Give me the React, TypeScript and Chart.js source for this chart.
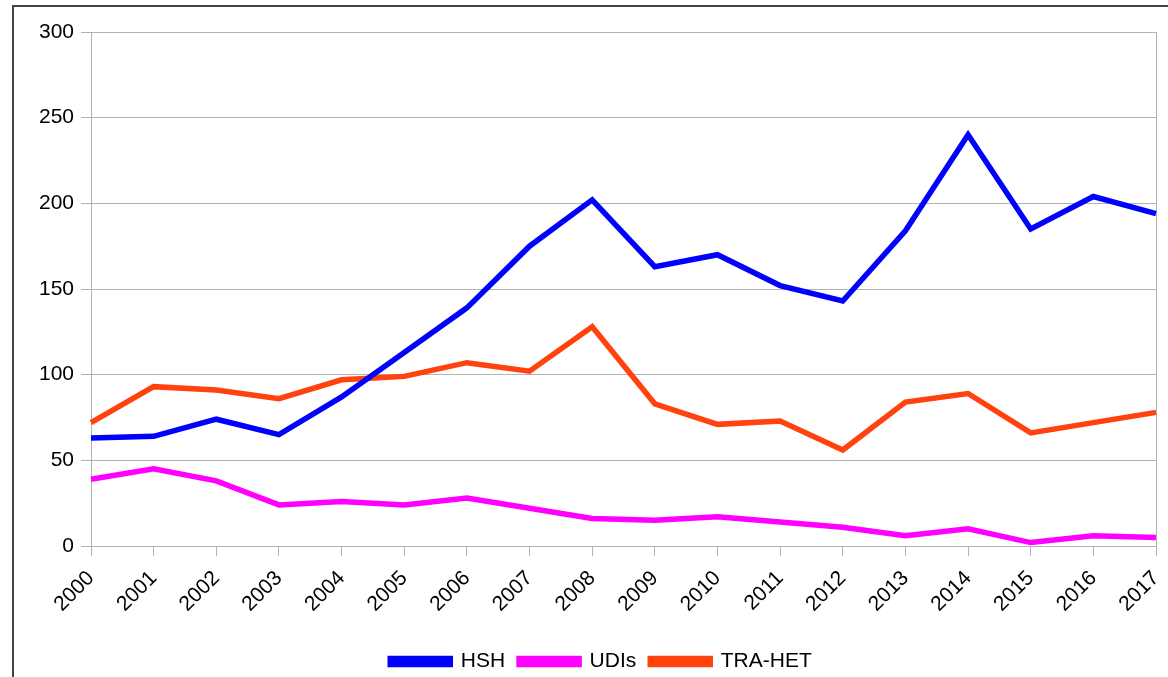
import React, { useEffect, useRef } from "react";
import { Chart, registerables } from "chart.js";

Chart.register(...registerables);

const years = ["2000","2001","2002","2003","2004","2005","2006","2007","2008","2009","2010","2011","2012","2013","2014","2015","2016","2017"];
const hsh = [63, 64, 74, 65, 87, 113, 139, 175, 202, 163, 170, 152, 143, 184, 240, 185, 204, 194];
const udis = [39, 45, 38, 24, 26, 24, 28, 22, 16, 15, 17, 14, 11, 6, 10, 2, 6, 5];
const traHet = [72, 93, 91, 86, 97, 99, 107, 102, 128, 83, 71, 73, 56, 84, 89, 66, 72, 78];

const FONT = "'Liberation Sans', Arial, sans-serif";
const GRID = "#b3b3b3";
const FS = 21;

const shiftLegend = {
  id: "shiftLegend",
  afterLayout(chart: any) {
    if (chart.legend) {
      chart.legend.left += 8;
      chart.legend.right += 8;
    }
  },
};

export default function App() {
  const ref = useRef<HTMLCanvasElement | null>(null);
  useEffect(() => {
    document.body.style.margin = "0";
    document.body.style.overflow = "hidden";
    document.documentElement.style.overflow = "hidden";
    if (!ref.current) return;
    const last = years.length - 1;
    const chart = new Chart(ref.current, {
      type: "line",
      data: {
        labels: years,
        datasets: [
          { label: "HSH", data: hsh, borderColor: "#0000ff", backgroundColor: "#0000ff" },
          { label: "UDIs", data: udis, borderColor: "#ff00ff", backgroundColor: "#ff00ff" },
          { label: "TRA-HET", data: traHet, borderColor: "#ff420e", backgroundColor: "#ff420e" },
        ].map((d) => ({ ...d, borderWidth: 5.5, pointRadius: 0, tension: 0, fill: false })),
      },
      plugins: [shiftLegend],
      options: {
        animation: false,
        responsive: false,
        maintainAspectRatio: false,
        layout: { padding: { left: 30, right: 12, top: 32, bottom: 0 } },
        plugins: {
          tooltip: { enabled: false },
          legend: {
            position: "bottom",
            labels: {
              boxWidth: 60,
              boxHeight: 6,
              padding: 14,
              color: "#000",
              font: { family: FONT, size: FS },
            },
          },
        },
        scales: {
          x: {
            afterFit: (s: any) => { s.height = 91; s.paddingRight = 0; s.paddingLeft = 0; },
            grid: {
              color: (c: any) => (c.index === last ? GRID : "rgba(0,0,0,0)"),
              tickColor: GRID,
              tickLength: 10,
              lineWidth: 1,
            },
            border: { display: false },
            ticks: {
              color: "#000",
              font: { family: FONT, size: FS },
              maxRotation: 45,
              minRotation: 45,
              autoSkip: false,
              padding: 10,
            },
          },
          y: {
            min: 0,
            max: 300,
            afterFit: (s: any) => { s.width = 61; s.paddingTop = 0; s.paddingBottom = 0; },
            grid: { color: GRID, tickColor: GRID, tickLength: 10, lineWidth: 1 },
            border: { display: true, color: GRID, width: 1 },
            ticks: {
              stepSize: 50,
              color: "#000",
              font: { family: FONT, size: FS },
              padding: 7,
            },
          },
        },
      },
    });
    return () => chart.destroy();
  }, []);
  return (
    <div style={{ position: "fixed", left: 0, top: 0, width: 1168, height: 677, overflow: "hidden", background: "#fff" }}>
      <canvas ref={ref} width={1168} height={682} style={{ position: "absolute", left: 0, top: 0, width: 1168, height: 682 }} />
      <div style={{ position: "absolute", left: 12, top: 5, width: 2000, height: 2000, borderLeft: "2px solid #444", borderTop: "2px solid #444", pointerEvents: "none" }} />
    </div>
  );
}
